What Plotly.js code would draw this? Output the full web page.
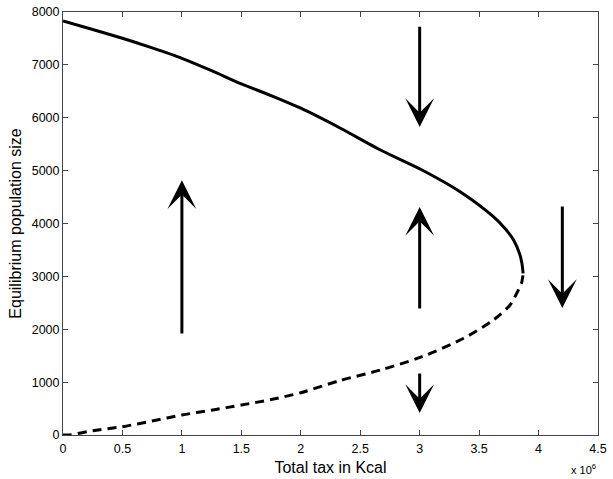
<!DOCTYPE html>
<html>
<head>
<meta charset="utf-8">
<script src="https://cdn.plot.ly/plotly-3.0.1.min.js"></script>
<style>
  body { margin: 0; background: #fff; }
  #chart { width: 613px; height: 479px; }
</style>
</head>
<body>
<div id="chart"></div>
<script>
// Stable branch (solid), tax in units of 10^6 Kcal
const stableTax = [0, 0.25, 0.5, 0.75, 1.0, 1.25, 1.5, 1.75, 2.0, 2.33, 2.67, 3.02, 3.34, 3.62, 3.72, 3.79, 3.84, 3.86, 3.87];
const stablePop = [7830, 7670, 7503, 7320, 7124, 6890, 6640, 6420, 6180, 5806, 5390, 5012, 4601, 4129, 3900, 3688, 3430, 3250, 3058];

// Unstable branch (dashed)
const unstableTax = [0, 0.05, 0.25, 0.5, 0.75, 1.0, 1.25, 1.5, 1.75, 2.0, 2.33, 2.67, 3.02, 3.37, 3.62, 3.76, 3.83, 3.86, 3.87];
const unstablePop = [0, 0, 80, 157, 265, 378, 470, 567, 670, 800, 1030, 1229, 1481, 1829, 2175, 2459, 2742, 2900, 3058];

// Direction arrows: tail (from) -> head (to)
const arrowX = [1.0, 3.0, 3.0, 3.0, 4.2];
const arrowFrom = [1890, 7750, 2364, 1191, 4350];
const arrowTo = [4820, 5825, 4312, 416, 2402];

const xTicks = [0, 0.5, 1, 1.5, 2, 2.5, 3, 3.5, 4, 4.5];
const yTicks = [0, 1000, 2000, 3000, 4000, 5000, 6000, 7000, 8000];

const traces = [
    {
        x: stableTax,
        y: stablePop,
        type: 'scatter',
        mode: 'lines',
        line: {color: '#000', width: 3, shape: 'spline', smoothing: 0.8},
        hoverinfo: 'skip'
    },
    {
        x: unstableTax,
        y: unstablePop,
        type: 'scatter',
        mode: 'lines',
        line: {color: '#000', width: 3, dash: '9px,6px', shape: 'spline', smoothing: 0.8},
        hoverinfo: 'skip'
    }
];

const arrows = arrowX.map((x, i) => ({
    x: x,
    y: arrowTo[i],
    ax: x,
    ay: arrowFrom[i],
    xref: 'x', yref: 'y',
    axref: 'x', ayref: 'y',
    text: '',
    showarrow: true,
    arrowhead: 3,
    arrowsize: 1.6,
    arrowwidth: 3,
    arrowcolor: '#000'
}));

arrows.push({
    xref: 'paper', yref: 'paper',
    x: 1.0, y: -0.06,
    xanchor: 'right', yanchor: 'top',
    text: 'x 10<sup>6</sup>',
    showarrow: false,
    font: {family: 'Liberation Sans, Arial, sans-serif', size: 11, color: '#000'}
});

const axisStyle = {
    showline: true,
    linecolor: '#444',
    linewidth: 1,
    mirror: 'ticks',
    ticks: 'inside',
    ticklen: 5,
    tickcolor: '#444',
    showgrid: false,
    zeroline: false,
    tickfont: {family: 'Liberation Sans, Arial, sans-serif', size: 12.5, color: '#000'}
};

const layout = {
    width: 613,
    height: 479,
    margin: {l: 63, r: 15, t: 12, b: 44},
    paper_bgcolor: '#fff',
    plot_bgcolor: '#fff',
    showlegend: false,
    xaxis: Object.assign({}, axisStyle, {
        range: [0, 4.5],
        tickvals: xTicks,
        ticktext: xTicks.map(String),
        ticklabelstandoff: 2,
        title: {text: 'Total tax in Kcal', standoff: 6,
            font: {family: 'Liberation Sans, Arial, sans-serif', size: 16, color: '#000'}}
    }),
    yaxis: Object.assign({}, axisStyle, {
        range: [0, 8000],
        tickvals: yTicks,
        ticktext: yTicks.map(String),
        title: {text: 'Equilibrium population size', standoff: 6,
            font: {family: 'Liberation Sans, Arial, sans-serif', size: 16, color: '#000'}}
    }),
    annotations: arrows
};

Plotly.newPlot('chart', traces, layout, {staticPlot: true});
</script>
</body>
</html>
